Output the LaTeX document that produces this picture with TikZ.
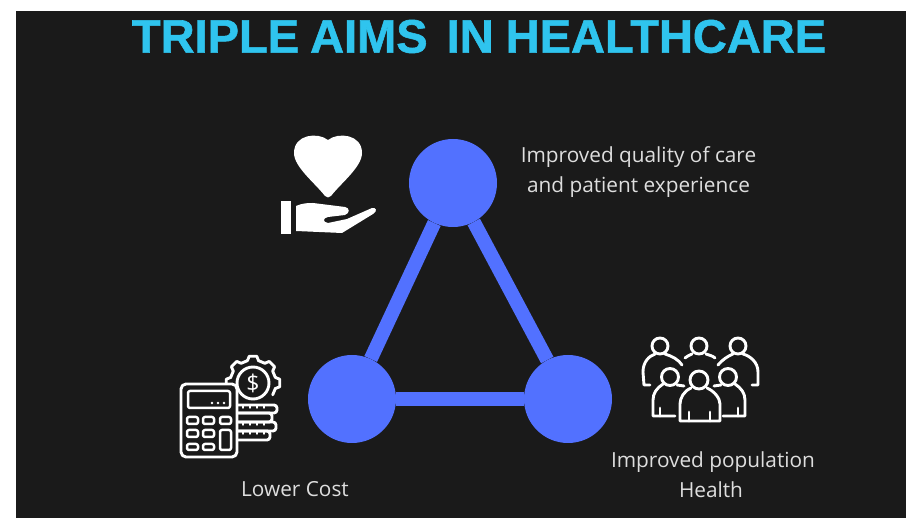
\documentclass[tikz,border=0pt]{standalone}
\usepackage{fontspec}
\setmainfont{Open Sans}
\newfontfamily\titlefont{Liberation Sans Bold}[FakeBold=1.2]
\definecolor{panel}{HTML}{1A1A1A}
\definecolor{aimblue}{HTML}{5271FF}
\definecolor{titleblue}{HTML}{2FC4EE}
\definecolor{labelgray}{HTML}{DEDEDE}

\begin{document}
\begin{tikzpicture}[x = 1pt, y = -1pt,
	aim/.style = {circle, fill = aimblue, minimum size = 88pt, inner sep = 0pt},
	spoke/.style = {aimblue, line width = 14pt},
	label/.style = {text = labelgray, align = center, font = \fontsize{20.8}{30}\selectfont},
	icon/.style = {white, line width = 2.9pt, line join = round, line cap = round},
	key/.style = {icon, line width = 2.5pt, rounded corners = 2pt}]

	\useasboundingbox (0, 0) rectangle (906, 518);

	% Background

	\fill [white] (0, 0) rectangle (906, 518);
	\fill [panel] (16, 11) rectangle (906, 518);

	% Title

	\node (title) at (479, 36.5) {\titlefont\fontsize{47}{46}\selectfont\color{titleblue}TRIPLE\hspace{-2pt} AIMS\hspace{6pt} IN\hspace{-1pt} HEALTHCARE};

	% Triangle

	\node [aim] (top) at (453, 183) {};
	\node [aim] (left) at (352, 399) {};
	\node [aim] (right) at (568, 399) {};

	\draw [spoke] (top) -- (left);
	\draw [spoke] (top) -- (right);
	\draw [spoke] (left) -- (right);

	% Labels

	\node [label] (care) at (638.5, 172) {Improved quality of care\\and patient experience};
	\node [label] (cost) at (295, 489) {Lower Cost};
	\node [label] (health) at (713, 475) {Improved population\\\hspace{-4pt}Health};

	% Heart and hand

	\fill [white] (328, 140) .. controls (318, 132) and (294, 134) .. (294, 153)
		.. controls (294, 167) and (315, 183) .. (325, 196)
		.. controls (327, 198) and (329, 198) .. (331, 196)
		.. controls (341, 183) and (362, 167) .. (362, 153)
		.. controls (362, 134) and (338, 132) .. (328, 140) -- cycle;
	\fill [white] (281, 201) rectangle (291, 234);
	\fill [white] (296, 206) .. controls (303, 203) and (308, 203) .. (313, 203)
		-- (345, 207) .. controls (350, 208) and (350, 213) .. (345, 215)
		-- (328, 217) .. controls (323, 218) and (322, 222) .. (328, 223)
		-- (347, 219) -- (372, 208) .. controls (376, 207) and (378, 211) .. (373, 214)
		-- (342, 233) -- (296, 231) -- cycle;

	% Gear and coins

	\begin{scope}[icon]

		\begin{scope}[shift = {(253, 383)}]
			\foreach \a in {-180, -135, -90, -45, 0}
				\draw (\a - 14 : 23) -- (\a - 8 : 27) -- (\a + 8 : 27) -- (\a + 14 : 23) -- (\a + 31 : 23);
		\end{scope}

		\draw [fill = panel] (253, 383) circle (16);
		\node [white, inner sep = 0pt, font = \fontsize{23}{23}\selectfont] (dollar) at (253, 383) {\$};

		\draw [rounded corners = 3pt] (235, 405) -- (277, 405) -- (277, 413) -- (235, 413);
		\draw [rounded corners = 3pt] (235, 413) -- (272, 413) -- (272, 422) -- (235, 422);
		\draw [rounded corners = 3pt] (235, 422) -- (276, 422) -- (276, 431) -- (235, 431);
		\draw [rounded corners = 3pt] (235, 431) -- (270, 431) -- (270, 440) -- (235, 440);

		\foreach \x in {243, 250, 257, 264} {
			\draw [line width = 1.5pt] (\x, 405) -- (\x, 408);
			\draw [line width = 1.5pt] (\x, 422) -- (\x, 425);
			\draw [line width = 1.5pt] (\x, 431) -- (\x, 434);
		}

	\end{scope}

	% Calculator

	\draw [icon, fill = panel, rounded corners = 5pt] (181, 384) rectangle (237, 457);
	\draw [key] (188, 391) rectangle (230, 408);
	\foreach \x in {212, 218, 224}
		\fill [white] (\x, 403) circle (1.3);

	\foreach \x in {187, 203, 220}
		\draw [key] (\x, 417) rectangle +(11, 7);
	\foreach \x in {187, 203}
		\draw [key] (\x, 430) rectangle +(11, 7);
	\foreach \x in {187, 203}
		\draw [key] (\x, 444) rectangle +(11, 6);
	\draw [key] (220, 430) rectangle (231, 450);

	% People

	\begin{scope}[icon]

		\foreach \x in {660, 699, 738}
			\draw (\x, 346) circle (8);
		\foreach \x in {670, 728}
			\draw (\x, 377) circle (8.5);
		\draw (699, 380) circle (9);

		% Back row
		\draw (650, 385) -- (644, 385) -- (643, 372) .. controls (643, 362) and (649, 356) .. (655, 354);
		\draw (665, 354) .. controls (672, 356) and (679, 360) .. (682, 365);
		\draw (685, 358) .. controls (687, 356) and (690, 355) .. (692, 354);
		\draw (706, 354) .. controls (709, 355) and (713, 356) .. (715, 358);
		\draw (718, 365) .. controls (722, 360) and (728, 356) .. (733, 354);
		\draw (743, 354) .. controls (750, 356) and (758, 362) .. (758, 372) -- (758, 385) -- (752, 385);

		% Front row
		\draw (675, 416) -- (653, 416) -- (653, 400) .. controls (653, 393) and (657, 388) .. (663, 384);
		\draw (677, 385) -- (684, 386);
		\draw (660, 408) -- (660, 416);
		\draw (723, 416) -- (745, 416) -- (745, 400) .. controls (745, 393) and (741, 388) .. (735, 384);
		\draw (721, 385) -- (714, 386);
		\draw (738, 408) -- (738, 416);
		\draw (691, 388) .. controls (684, 391) and (680, 398) .. (680, 404) -- (680, 421) -- (720, 421) -- (720, 404) .. controls (720, 398) and (714, 391) .. (707, 388);
		\draw (689, 412) -- (689, 421);
		\draw (710, 412) -- (710, 421);

	\end{scope}

\end{tikzpicture}
\end{document}
